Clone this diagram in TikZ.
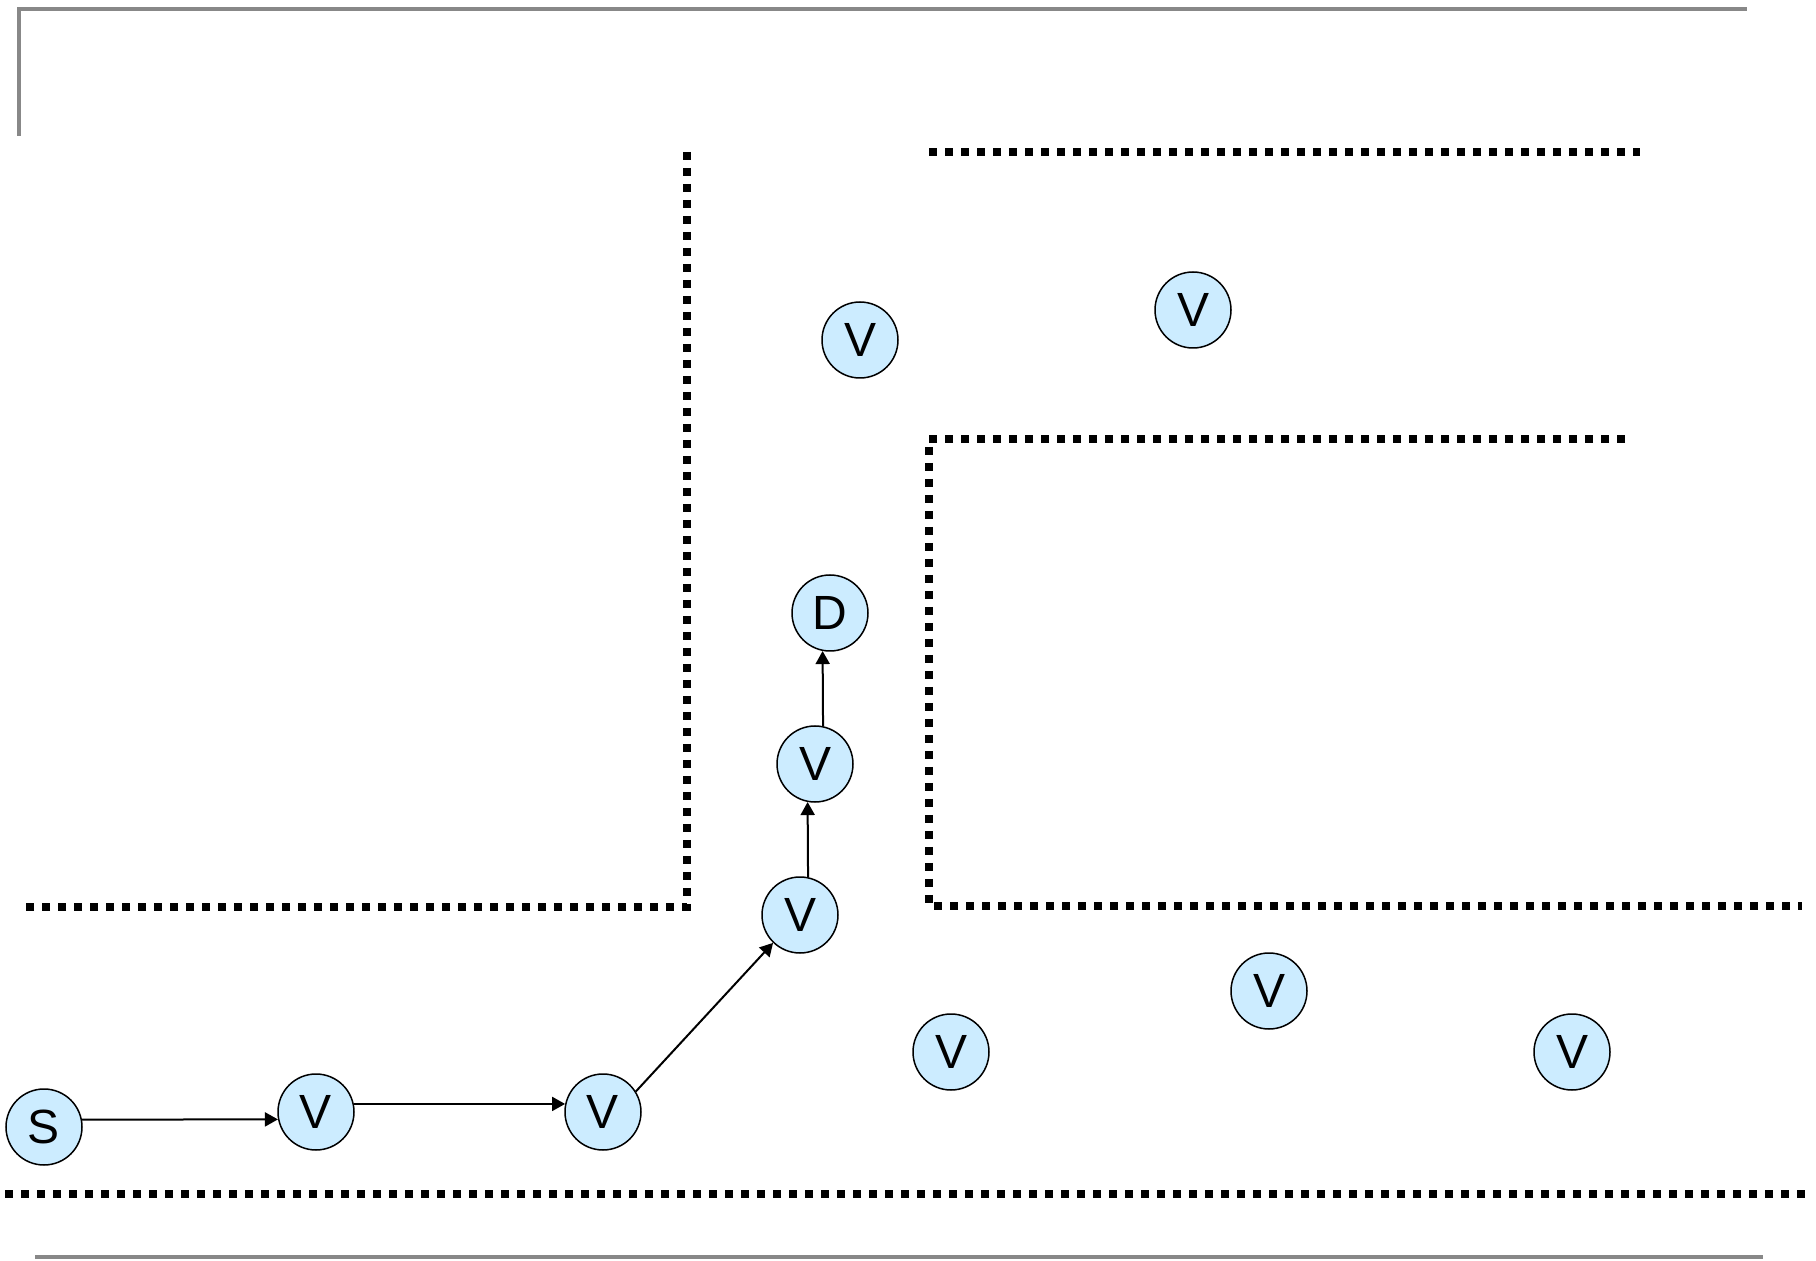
\documentclass[tikz,border=0pt]{standalone}
\usepackage{fontspec}
\setmainfont{Liberation Sans}
\usetikzlibrary{arrows.meta}

\tikzset{
  vtx/.style={circle, draw=black, line width=0.75pt, fill={rgb,255:red,204;green,236;blue,255}, minimum size=38pt, inner sep=0pt, font=\fontsize{24}{24}\selectfont},
  wall/.style={line width=4pt, dash pattern={on 4pt off 4pt}},
  frame/.style={line width=2pt, color={rgb,255:red,136;green,136;blue,136}},
  hop/.style={line width=1pt, -{Triangle[length=6.5pt,width=7pt]}}
}

\begin{document}
\begin{tikzpicture}[x=0.5pt,y=0.5pt,yscale=-1,xscale=1]
\useasboundingbox (0,0) rectangle (1816,1261);

%Frame Lines
\draw [frame] (19,136) -- (19,9) -- (1747,9) ;
\draw [frame] (35,1257) -- (1763,1257) ;

%Dotted Walls
\draw [wall] (687,152) -- (687,907) -- (21,907) ;
\draw [wall] (929,152) -- (1640,152) ;
\draw [wall] (1625,439) -- (929,439) -- (929,906) -- (1802,906) ;
\draw [wall] (5,1194) -- (1807,1194) ;

% Vertex Nodes
\draw (44,1127) node [vtx] (s) {S};
\draw (316,1112) node [vtx] (v1) {V};
\draw (603,1112) node [vtx] (v2) {V};
\draw (800,915) node [vtx] (v3) {V};
\draw (815,764) node [vtx] (v4) {V};
\draw (830,613) node [vtx] (d) {D};
\draw (860,340) node [vtx] (v5) {V};
\draw (1193,310) node [vtx] (v6) {V};
\draw (951,1052) node [vtx] (v7) {V};
\draw (1269,991) node [vtx] (v8) {V};
\draw (1572,1052) node [vtx] (v9) {V};

%Route
\draw [hop] (s.11.385) -- (v1.191.385) ;
\draw [hop] (v1.12) -- (v2.168) ;
\draw [hop] (v2.32) -- (v3.226) ;
\draw [hop] (v3.78) -- (v4.259) ;
\draw [hop] (v4.78) -- (d.259) ;

\end{tikzpicture}
\end{document}
